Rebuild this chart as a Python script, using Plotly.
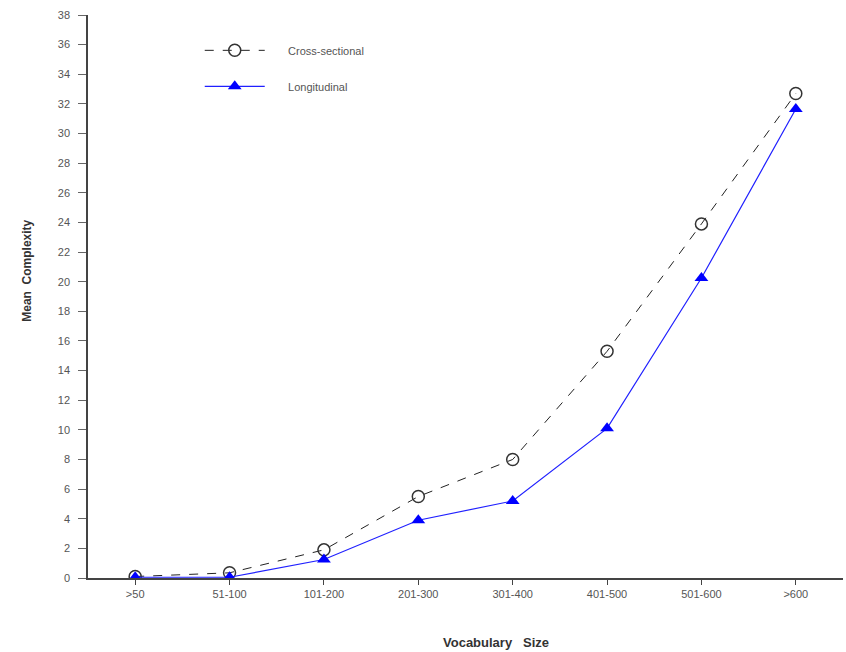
import plotly.graph_objects as go

categories = [">50", "51-100", "101-200", "201-300", "301-400", "401-500", "501-600", ">600"]
cross_sectional = [0.1, 0.35, 1.9, 5.5, 8.0, 15.3, 23.9, 32.7]
longitudinal = [0.05, 0.05, 1.25, 3.9, 5.2, 10.1, 20.25, 31.65]
y_ticks = list(range(0, 40, 2))

pad = "\u00a0" * 6

fig = go.Figure()
fig.add_trace(go.Scatter(
    x=categories, y=cross_sectional, name=pad + "Cross-sectional", mode="lines+markers",
    line=dict(color="#222222", width=1, dash="dash"),
    marker=dict(symbol="circle-open", size=12, color="#333333", line=dict(width=1.5)),
    legendgroup="a",
))
fig.add_trace(go.Scatter(
    x=categories, y=longitudinal, name=pad + "Longitudinal", mode="lines+markers",
    line=dict(color="#2020ff", width=1.2),
    marker=dict(symbol="triangle-up", size=12, color="#0000ff"),
    legendgroup="b",
))

fig.update_layout(
    width=846, height=652,
    margin=dict(l=88, r=3, t=15, b=74),
    paper_bgcolor="white", plot_bgcolor="white",
    font=dict(family="Liberation Sans, Arial, sans-serif", size=11, color="#555555"),
    showlegend=True,
    legend=dict(x=0.148, y=0.963, xanchor="left", yanchor="top", bgcolor="rgba(0,0,0,0)",
                font=dict(size=11, color="#555555"), itemwidth=60,
                traceorder="grouped", tracegroupgap=17),
    xaxis=dict(type="category", range=[-0.5, 7.5], showgrid=False, zeroline=False,
               showline=True, linecolor="#444444", linewidth=1.5,
               ticks="outside", ticklen=5, tickcolor="#444444",
               tickfont=dict(size=11, color="#555555")),
    yaxis=dict(range=[0, 38], tickvals=y_ticks, showgrid=False, zeroline=False,
               showline=True, linecolor="#444444", linewidth=1.5,
               ticks="outside", ticklen=8, tickcolor="#666666", ticklabelstandoff=6,
               tickfont=dict(size=11, color="#555555")),
    annotations=[
        dict(text="<b>Vocabulary   Size</b>", xref="paper", yref="paper", x=0.54, y=-0.114,
             xanchor="center", yanchor="middle", showarrow=False,
             font=dict(size=13, color="#333333")),
        dict(text="<b>Mean  Complexity</b>", xref="paper", yref="paper", x=-0.08, y=0.545,
             xanchor="center", yanchor="middle", showarrow=False, textangle=-90,
             font=dict(size=12, color="#333333")),
    ],
)

fig.write_html("out.html", config={"displayModeBar": False},
               post_script="document.body.style.margin='0';")
